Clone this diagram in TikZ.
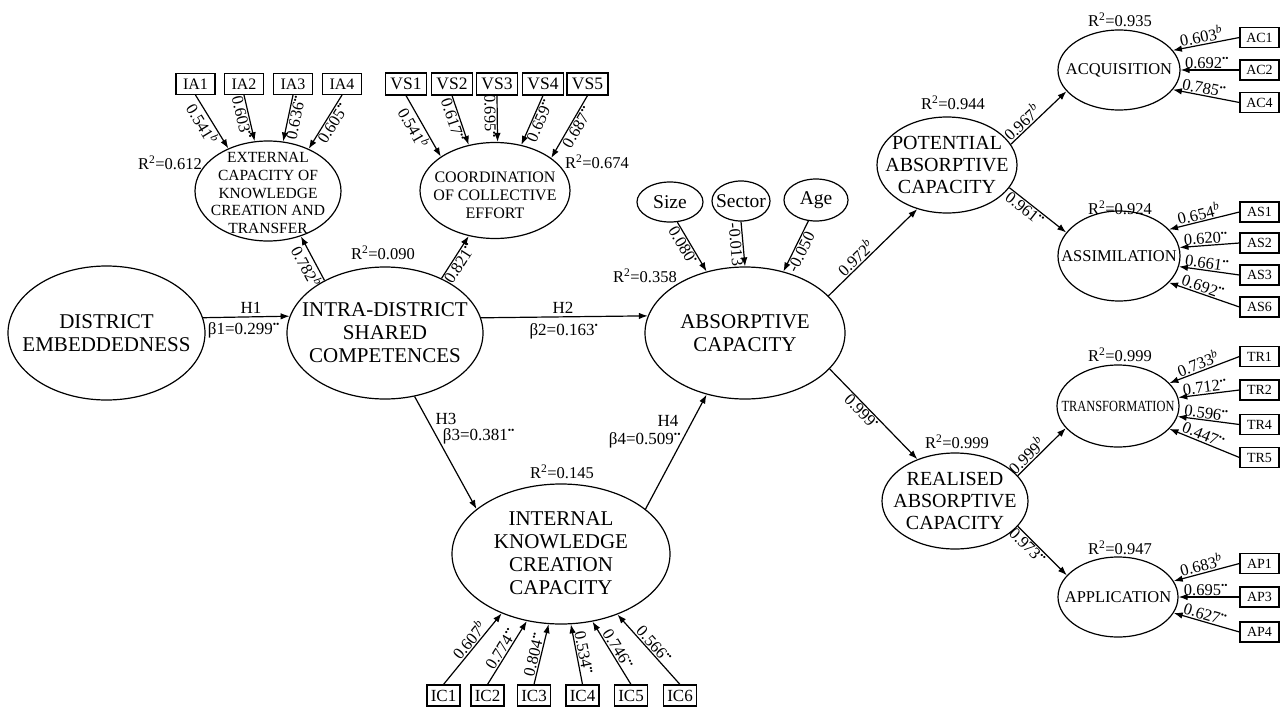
\documentclass[tikz,border=0pt]{standalone}
\usepackage{fontspec}
\setmainfont{Liberation Serif}
\usetikzlibrary{shapes.geometric,arrows.meta}
\newcommand{\sigtwo}{\textsuperscript{\scalebox{0.8}{\textbullet\textbullet}}}
\newcommand{\sigone}{\textsuperscript{\scalebox{0.8}{\textbullet}}}
\newcommand{\supb}{\textsuperscript{\itshape b}}
\newcommand{\rsq}[1]{R\textsuperscript{2}=#1}
\tikzset{
  lat/.style={draw, ellipse, inner sep=0pt, line width=1.2pt},
  obs/.style={draw, rectangle, inner sep=0pt, line width=1.1pt},
  iabox/.style={obs, minimum width=39pt, minimum height=21pt, font=\fontsize{16}{16}\selectfont},
  vsbox/.style={obs, minimum width=41pt, minimum height=22pt, font=\fontsize{17.5}{17.5}\selectfont},
  icbox/.style={obs, minimum width=33pt, minimum height=21pt, font=\fontsize{17}{17}\selectfont},
  rbox/.style={obs, minimum width=39pt, minimum height=20pt, font=\fontsize{14}{14}\selectfont},
  arr/.style={line width=1.2pt, -{Latex[length=9pt,width=6.5pt]}},
  ld/.style={font=\fontsize{16.5}{18}\selectfont, inner sep=1pt, sloped},
  rlab/.style={font=\fontsize{16.5}{18}\selectfont, inner sep=0pt},
  hlab/.style={font=\fontsize{17}{18}\selectfont, inner sep=0pt},
  big/.style={font=\fontsize{21}{23}\selectfont, align=center, inner sep=0pt},
  mid/.style={font=\fontsize{20}{22}\selectfont, align=center, inner sep=0pt},
  small/.style={font=\fontsize{16.5}{18}\selectfont, align=center, inner sep=0pt},
  extf/.style={font=\fontsize{15.5}{17.8}\selectfont, align=center, inner sep=0pt},
  coordf/.style={font=\fontsize{16}{18}\selectfont, align=center, inner sep=0pt},
  ctl/.style={font=\fontsize{19.5}{20}\selectfont, inner sep=0pt}
}
\begin{document}
\begin{tikzpicture}[x=1pt,y=-1pt]
\useasboundingbox (0,0) rectangle (1282,707);

% ---------- latent variables ----------
\node[lat, minimum width=197pt, minimum height=134pt] (de) at (106.5,333) {};
\node[big] (de-t) at (de) {DISTRICT\\EMBEDDEDNESS};
\node[lat, minimum width=196pt, minimum height=132pt] (intra) at (385,333) {};
\node[big] (intra-t) at (intra) {INTRA-DISTRICT\\SHARED\\COMPETENCES};
\node[lat, minimum width=200pt, minimum height=132pt] (abs) at (745,333) {};
\node[big] (abs-t) at (abs) {ABSORPTIVE\\CAPACITY};
\node[lat, minimum width=218pt, minimum height=140pt] (ikc) at (561,554) {};
\node[big] (ikc-t) at (561,553) {INTERNAL\\KNOWLEDGE\\CREATION\\CAPACITY};
\node[lat, minimum width=146pt, minimum height=100pt] (ext) at (268,191) {};
\node[extf] (ext-t) at (268,193) {EXTERNAL\\CAPACITY OF\\KNOWLEDGE\\CREATION AND\\TRANSFER};
\node[lat, minimum width=150pt, minimum height=96pt] (coord) at (495,190.5) {};
\node[coordf] (coord-t) at (495,195) {COORDINATION\\OF COLLECTIVE\\EFFORT};

\node[lat, minimum width=66pt, minimum height=40pt] (size) at (670,202) {};
\node[ctl] (size-t) at (size) {Size};
\node[lat, minimum width=58pt, minimum height=40pt] (sector) at (741,201) {};
\node[ctl] (sector-t) at (sector) {Sector};
\node[lat, minimum width=64pt, minimum height=42pt] (age) at (816,200) {};
\node[ctl] (age-t) at (age) {Age};

\node[lat, minimum width=140pt, minimum height=96pt] (pot) at (947,165) {};
\node[mid] (pot-t) at (pot) {POTENTIAL\\ABSORPTIVE\\CAPACITY};
\node[lat, minimum width=146pt, minimum height=96pt] (real) at (955,501) {};
\node[mid] (real-t) at (real) {REALISED\\ABSORPTIVE\\CAPACITY};

\node[lat, minimum width=122pt, minimum height=80pt] (acq) at (1119,70) {};
\node[small] (acq-t) at (acq) {ACQUISITION};
\node[lat, minimum width=122pt, minimum height=90pt] (assim) at (1119,256) {};
\node[small] (assim-t) at (assim) {ASSIMILATION};
\node[lat, minimum width=122pt, minimum height=82pt] (trans) at (1118,406) {};
\node[small] (trans-t) at (trans) {\fontsize{15.5}{17}\selectfont\scalebox{0.8}[1]{TRANSFORMATION}};
\node[lat, minimum width=120pt, minimum height=80pt] (app) at (1118,597) {};
\node[small] (app-t) at (app) {APPLICATION};

% ---------- indicators ----------
\node[iabox] (ia1) at (195.5,84) {IA1};
\node[iabox] (ia2) at (244,84) {IA2};
\node[iabox] (ia3) at (293,84) {IA3};
\node[iabox] (ia4) at (342,84) {IA4};

\node[vsbox] (vs1) at (406,84) {VS1};
\node[vsbox] (vs2) at (452,84) {VS2};
\node[vsbox] (vs3) at (497,84) {VS3};
\node[vsbox] (vs4) at (543,84) {VS4};
\node[vsbox] (vs5) at (587.5,84) {VS5};

\node[icbox] (ic1) at (443.5,695.5) {IC1};
\node[icbox] (ic2) at (487.5,695.5) {IC2};
\node[icbox] (ic3) at (534,695.5) {IC3};
\node[icbox] (ic4) at (582.5,695.5) {IC4};
\node[icbox] (ic5) at (631,695.5) {IC5};
\node[icbox] (ic6) at (680,695.5) {IC6};

\node[rbox] (ac1) at (1259.5,37.5) {AC1};
\node[rbox] (ac2) at (1259.5,70) {AC2};
\node[rbox] (ac4) at (1259.5,102.5) {AC4};
\node[rbox] (as1) at (1259.5,212) {AS1};
\node[rbox] (as2) at (1259.5,243) {AS2};
\node[rbox] (as3) at (1259.5,275) {AS3};
\node[rbox] (as6) at (1259.5,307) {AS6};
\node[rbox] (tr1) at (1259.5,356.5) {TR1};
\node[rbox] (tr2) at (1259.5,390) {TR2};
\node[rbox] (tr4) at (1259.5,424.5) {TR4};
\node[rbox] (tr5) at (1259.5,457.5) {TR5};
\node[rbox] (ap1) at (1259.5,563.5) {AP1};
\node[rbox] (ap3) at (1259.5,597) {AP3};
\node[rbox] (ap4) at (1259.5,632) {AP4};

% ---------- R2 labels ----------
\node[rlab] (r612) at (170,163) {\rsq{0.612}};
\node[rlab] (r674) at (597,162) {\rsq{0.674}};
\node[rlab] (r090) at (383,253) {\rsq{0.090}};
\node[rlab] (r358) at (645,276) {\rsq{0.358}};
\node[rlab] (r145) at (562,472) {\rsq{0.145}};
\node[rlab] (r944) at (953,103) {\rsq{0.944}};
\node[rlab] (r935) at (1120,20) {\rsq{0.935}};
\node[rlab] (r924) at (1120,208) {\rsq{0.924}};
\node[rlab] (r999a) at (957,442) {\rsq{0.999}};
\node[rlab] (r999b) at (1120,355) {\rsq{0.999}};
\node[rlab] (r947) at (1120,548) {\rsq{0.947}};

% ---------- structural paths ----------
\draw[arr] (de.9.4) -- (intra.170.4);
\node[hlab] (h1) at (251,308) {H1};
\node[hlab] (b1) at (244,330) {β1=0.299\sigtwo};
\draw[arr] (intra.9.6) -- (abs.170.6);
\node[hlab] (h2) at (563,308) {H2};
\node[hlab] (b2) at (564,331) {β2=0.163\sigone};
\draw[arr] (intra.295) -- (ikc.152);
\node[hlab] (h3) at (446,419) {H3};
\node[hlab] (b3) at (479,436) {β3=0.381\sigtwo};
\draw[arr] (ikc.28) -- (abs.238);
\node[hlab] (h4) at (668,421) {H4};
\node[hlab] (b4) at (645,440) {β4=0.509\sigtwo};

\draw[arr] (intra.139) -- node[ld, below, pos=0.42] {0.782\supb} (ext.306);
\draw[arr] (intra.44) -- node[ld, below, pos=0.45] {0.821\sigtwo} (coord.240);

\draw[arr] (size.290) -- node[ld, below, pos=0.4] {0.080\sigone} (abs.122);
\draw[arr] (sector.south) -- node[ld, below, pos=0.5] {-0.013} (abs.90);
\draw[arr] (age.250) -- node[ld, below, pos=0.55] {-0.050} (abs.58);

\draw[arr] (abs.24) -- node[ld, above, pos=0.37] {0.972\supb} (pot.236);
\draw[arr] (abs.337) -- node[ld, below, pos=0.42] {0.999\sigone} (real.132);
\draw[arr] (pot.18) -- node[ld, above, pos=0.3] {0.967\supb} (acq.202);
\draw[arr] (pot.340) -- node[ld, below, pos=0.35] {0.961\sigtwo} (assim.156);
\draw[arr] (real.22) -- node[ld, above, pos=0.3] {0.999\supb} (trans.203);
\draw[arr] (real.338) -- node[ld, below, pos=0.3] {0.973\sigtwo} (app.157);

% ---------- measurement paths ----------
\draw[arr] (ia1.south) -- node[ld, below, pos=0.45] {0.541\supb} (ext.133);
\draw[arr] (ia2.south) -- node[ld, below, pos=0.45] {0.603\sigtwo} (ext.105);
\draw[arr] (ia3.south) -- node[ld, below, pos=0.45] {0.636\sigtwo} (ext.73);
\draw[arr] (ia4.south) -- node[ld, below, pos=0.45] {0.605\sigtwo} (ext.46);

\draw[arr] (vs1.south) -- node[ld, below, pos=0.45] {0.541\supb} (coord.148);
\draw[arr] (vs2.south) -- node[ld, below, pos=0.45] {0.617\sigtwo} (coord.120);
\draw[arr] (vs3.south) -- node[ld, below, pos=0.45] {0.695\sigtwo} (coord.87);
\draw[arr] (vs4.south) -- node[ld, below, pos=0.45] {0.659\sigtwo} (coord.60);
\draw[arr] (vs5.south) -- node[ld, below, pos=0.45] {0.687\sigtwo} (coord.30);

\draw[arr] (ic1.north) -- node[ld, above, pos=0.55] {0.607\supb} (ikc.225);
\draw[arr] (ic2.north) -- node[ld, above, pos=0.5] {0.774\sigtwo} (ikc.243.6);
\draw[arr] (ic3.north) -- node[ld, above, pos=0.47] {0.804\sigtwo} (ikc.260.5);
\draw[arr] (ic4.north) -- node[ld, above, pos=0.5] {0.534\sigtwo} (ikc.278);
\draw[arr] (ic5.north) -- node[ld, above, pos=0.5] {0.746\sigtwo} (ikc.295.7);
\draw[arr] (ic6.north) -- node[ld, above, pos=0.5] {0.566\sigtwo} (ikc.313.5);

\draw[arr] (ac1.west) -- node[ld, above, pos=0.55] {0.603\supb} (acq.20);
\draw[arr] (ac2.west) -- node[ld, above, pos=0.55] {0.692\sigtwo} (acq.0);
\draw[arr] (ac4.west) -- node[ld, above, pos=0.55] {0.785\sigtwo} (acq.340);

\draw[arr] (as1.west) -- node[ld, above, pos=0.55] {0.654\supb} (assim.28);
\draw[arr] (as2.west) -- node[ld, above, pos=0.55] {0.620\sigtwo} (assim.8);
\draw[arr] (as3.west) -- node[ld, above, pos=0.55] {0.661\sigtwo} (assim.350);
\draw[arr] (as6.west) -- node[ld, above, pos=0.55] {0.692\sigtwo} (assim.332);

\draw[arr] (tr1.west) -- node[ld, above, pos=0.55] {0.733\supb} (trans.24);
\draw[arr] (tr2.west) -- node[ld, above, pos=0.55] {0.712\sigtwo} (trans.8);
\draw[arr] (tr4.west) -- node[ld, above, pos=0.55] {0.596\sigtwo} (trans.350);
\draw[arr] (tr5.west) -- node[ld, above, pos=0.55] {0.447\sigtwo} (trans.336);

\draw[arr] (ap1.west) -- node[ld, above, pos=0.55] {0.683\supb} (app.16);
\draw[arr] (ap3.west) -- node[ld, above, pos=0.55] {0.695\sigtwo} (app.0);
\draw[arr] (ap4.west) -- node[ld, above, pos=0.55] {0.627\sigtwo} (app.344);
\end{tikzpicture}
\end{document}
